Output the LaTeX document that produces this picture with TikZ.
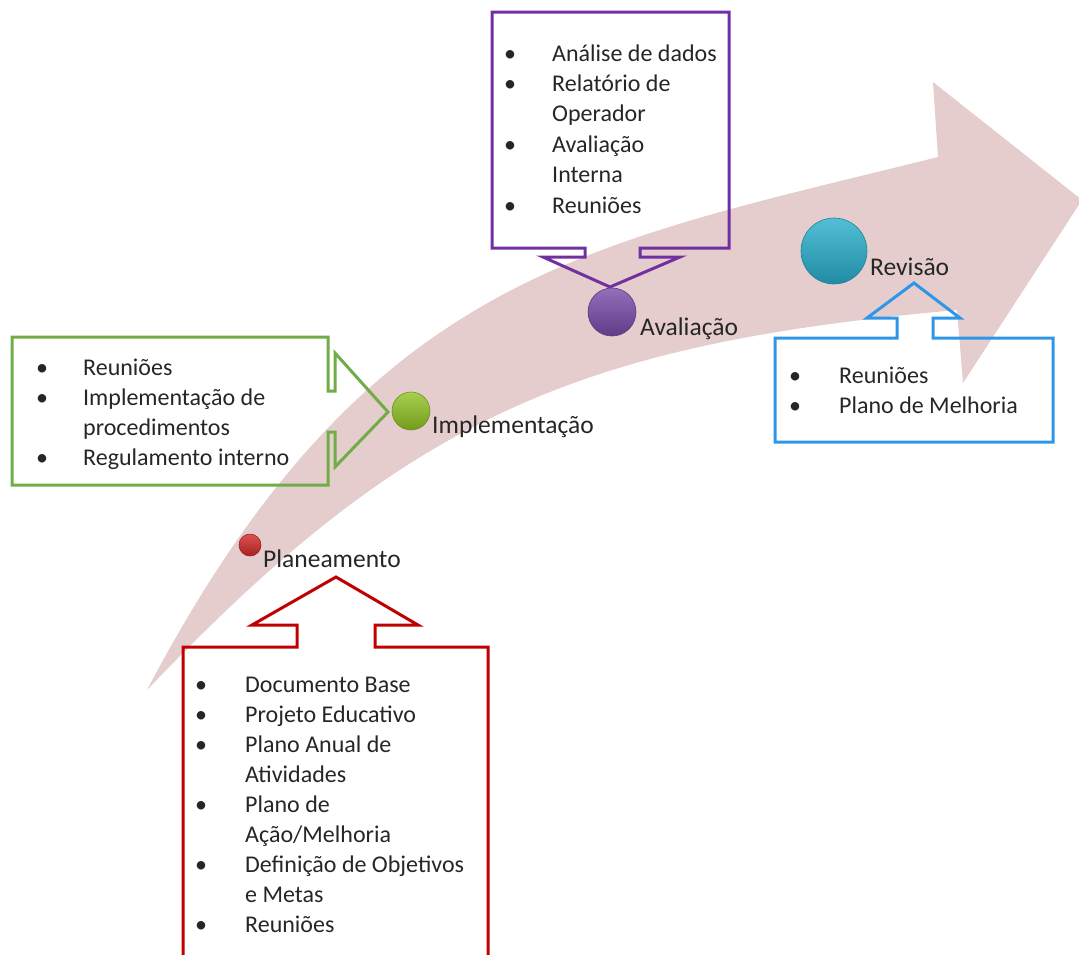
\documentclass[tikz,border=0pt]{standalone}
\usepackage{fontspec}
\setmainfont{Carlito}
\definecolor{arrowpink}{RGB}{229,205,205}
\definecolor{cred}{RGB}{192,0,0}
\definecolor{cgreen}{RGB}{112,173,71}
\definecolor{cpurple}{RGB}{112,48,160}
\definecolor{cblue}{RGB}{46,150,232}
\definecolor{txt}{RGB}{38,38,38}
\definecolor{sred}{RGB}{210,40,40}
\definecolor{sgreen}{RGB}{145,195,35}
\definecolor{spurple}{RGB}{120,75,170}
\definecolor{scyan}{RGB}{40,175,205}
\tikzset{
  callout/.style={line width=3pt, line join=miter},
  listtxt/.style={anchor=base west, inner sep=0pt, text=txt, font=\fontsize{24}{30}\selectfont},
  lbl/.style={anchor=base west, inner sep=0pt, text=txt, font=\fontsize{25.5}{30}\selectfont},
  sphere/.style={circle, inner sep=0pt, draw=#1!75!black, line width=0.6pt,
    top color=#1!80!white, middle color=#1, bottom color=#1!80!black}
}
\begin{document}
\begin{tikzpicture}[x=1pt,y=-1pt]
\useasboundingbox (0,0) rectangle (1079,954);
\clip (0,0) rectangle (1079,954);

% big curved arrow
\fill[arrowpink] (147,690) .. controls (367,272) and (588,244.5) .. (938,157)
  -- (933,82) -- (1082,200) -- (963,383) -- (957,310)
  .. controls (577,344) and (407,417) .. (147,690) -- cycle;

% red callout (Planeamento)
\draw[callout, cred] (183,970) -- (183,647) -- (297,647) -- (297,625) -- (252,625)
  -- (336,577) -- (418,625) -- (375,625) -- (375,647) -- (488,647) -- (488,970);
% green callout (Implementacao)
\draw[callout, cgreen] (328,337) -- (12,337) -- (12,485) -- (328,485) -- (328,432)
  -- (335,432) -- (335,467) -- (388,412) -- (335,353) -- (335,391) -- (328,391) -- cycle;
% purple callout (Avaliacao)
\draw[callout, cpurple] (492,12) -- (729,12) -- (729,248) -- (640,248) -- (640,257)
  -- (680,257) -- (610,287) -- (543,257) -- (585,257) -- (585,248) -- (492,248) -- cycle;
% blue callout (Revisao)
\draw[callout, cblue] (775,338) -- (897,338) -- (897,318) -- (867,318) -- (914,283)
  -- (960,318) -- (933,318) -- (933,338) -- (1053,338) -- (1053,442) -- (775,442) -- cycle;

% spheres
\node[sphere=sred, minimum size=22pt] (s1) at (250,545) {};
\node[sphere=sgreen, minimum size=38pt] (s2) at (411,411) {};
\node[sphere=spurple, minimum size=48pt] (s3) at (612,312) {};
\node[sphere=scyan, minimum size=66pt] (s4) at (834,251) {};

% stage labels
\node[lbl] (l1) at (263,567) {Planeamento};
\node[lbl] (l2) at (432,433) {Implementação};
\node[lbl] (l3) at (640,335) {Avaliação};
\node[lbl] (l4) at (870,275) {Revisão};

% lists
\node[listtxt] (redlist) at (195,692) {\begin{tabular}[t]{@{}p{50pt}@{}l@{}}
•&Documento Base\\
•&Projeto Educativo\\
•&Plano Anual de\\
&Atividades\\
•&Plano de\\
&Ação/Melhoria\\
•&Definição de Objetivos\\
&e Metas\\
•&Reuniões
\end{tabular}};
\node[listtxt] (greenlist) at (36,375) {\begin{tabular}[t]{@{}p{47pt}@{}l@{}}
•&Reuniões\\
•&Implementação de\\
&procedimentos\\
•&Regulamento interno
\end{tabular}};
\node[listtxt, font=\fontsize{24}{30.4}\selectfont] (purplelist) at (504,61) {\begin{tabular}[t]{@{}p{48pt}@{}l@{}}
•&Análise de dados\\
•&Relatório de\\
&Operador\\
•&Avaliação\\
&Interna\\
•&Reuniões
\end{tabular}};
\node[listtxt] (bluelist) at (789,383) {\begin{tabular}[t]{@{}p{50pt}@{}l@{}}
•&Reuniões\\
•&Plano de Melhoria
\end{tabular}};
\end{tikzpicture}
\end{document}
